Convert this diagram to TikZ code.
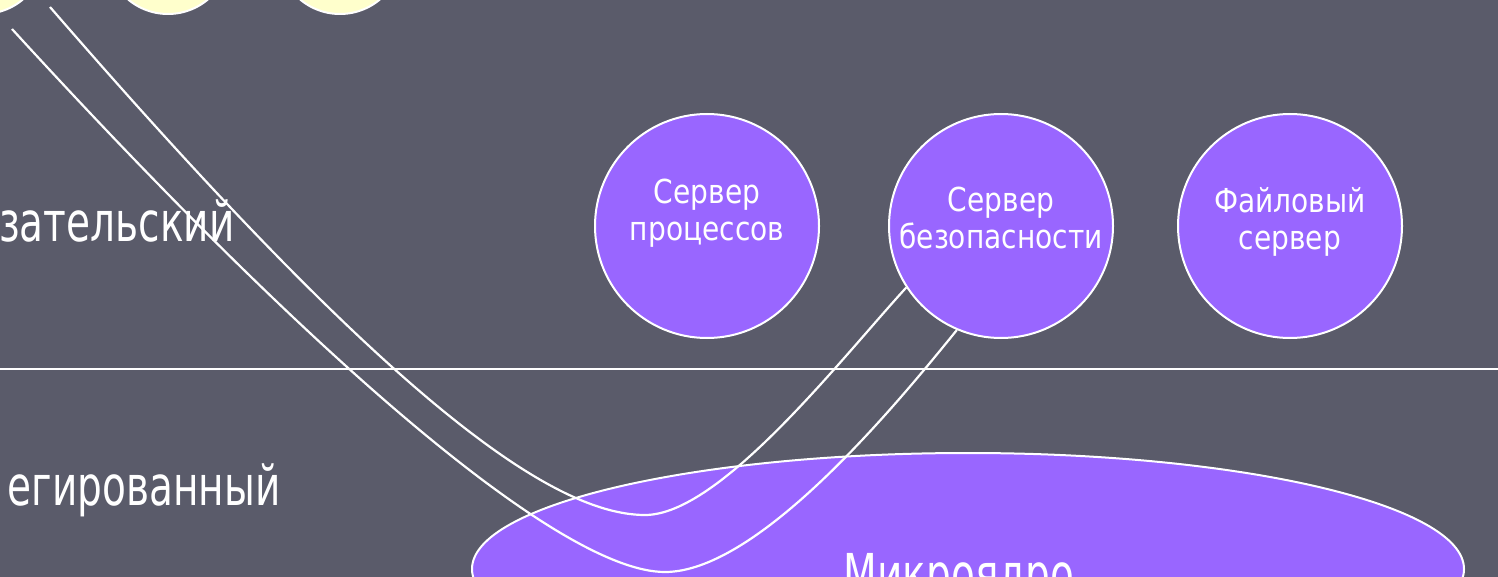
\documentclass[tikz,border=0pt]{standalone}
\usepackage{fontspec}
\setmainfont{DejaVu Sans}
\newfontfamily\srvfont[FakeStretch=0.85]{DejaVu Sans}
\newfontfamily\modefont[FakeStretch=0.71]{DejaVu Sans}
\usetikzlibrary{shapes}
\definecolor{slide}{RGB}{90,91,106}
\definecolor{srvcol}{RGB}{153,102,255}
\definecolor{cream}{RGB}{255,255,204}
\tikzstyle{srv}=[circle,draw=white,line width=2pt,fill=srvcol,minimum size=224pt,inner sep=0pt]
\tikzstyle{yl}=[circle,draw=white,line width=2pt,fill=cream,minimum size=124pt,inner sep=0pt]
\tikzstyle{srvtxt}=[text=white,align=center,font=\srvfont\fontsize{33}{37}\selectfont]
\tikzstyle{mode}=[text=white,font=\modefont\fontsize{55}{60}\selectfont]
\tikzstyle{wire}=[draw=white,line width=2.2pt]

\begin{document}
\begin{tikzpicture}[x=1pt,y=-1pt]
\fill[slide] (0,0) rectangle (1498,577);
\useasboundingbox (0,0) rectangle (1498,577);
\clip (0,0) rectangle (1498,577);
\node[yl] (k1) at (-17,-48) {};
\node[yl] (k2) at (168,-48) {};
\node[yl] (k3) at (340,-48) {};
\node[mode,anchor=base east] (um) at (238,242) {зательский};
\node[mode,anchor=base east] (pm) at (284,505) {егированный};
\draw[white,line width=2pt] (0,369) -- (1498,369);
\node[srv] (sp) at (707,226) {};
\node[srv] (ss) at (1001,226) {};
\node[srv] (sf) at (1290,226) {};
\node[srvtxt] (tp) at (707,213) {Сервер\\процессов};
\node[srvtxt] (ts) at (1001,218) {Сервер\\безопасности};
\node[srvtxt] (tf) at (1290,222) {Файловый\\сервер};
\node[ellipse,draw=white,line width=2pt,fill=srvcol,minimum width=992pt,minimum height=232pt] (mk) at (968,569) {};
\node[mode,anchor=base] (tm) at (959,593) {Микроядро};
\coordinate (a0) at (50,7); \coordinate (a1) at (645,515);
\coordinate (b0) at (12,29); \coordinate (b1) at (665,572);
\draw[wire] (a0) .. controls (360,365) and (540,515) .. (a1) .. controls (720,515) and (840,360) .. (ss.213);
\draw[wire] (b0) .. controls (310,355) and (560,572) .. (b1) .. controls (760,572) and (900,400) .. (ss.247);
\end{tikzpicture}
\end{document}
